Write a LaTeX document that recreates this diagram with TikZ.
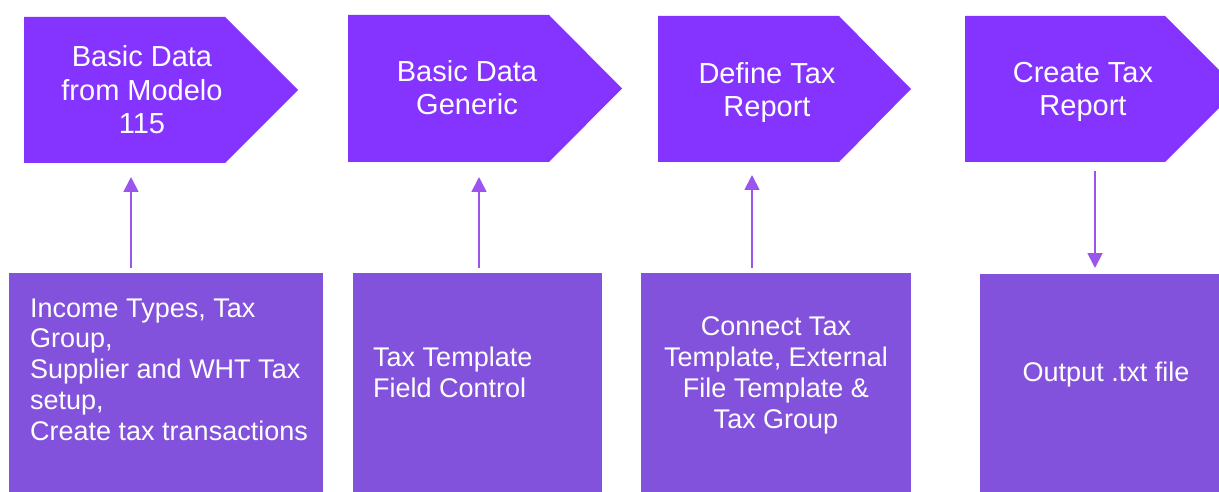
\documentclass[tikz,border=0pt]{standalone}
\usepackage{fontspec}
\setmainfont{Liberation Sans}
\usetikzlibrary{arrows.meta}
\definecolor{stepviolet}{HTML}{8533FF}
\definecolor{boxviolet}{HTML}{8352DC}
\definecolor{arrowviolet}{HTML}{9B55EC}
\tikzset{
  stepshape/.style={fill=stepviolet, draw=none},
  detailbox/.style={fill=boxviolet, draw=none},
  toptext/.style={text=white, align=center, inner sep=0pt, font=\fontsize{29}{33.5}\selectfont},
  bottext/.style={text=white, inner sep=0pt, font=\fontsize{27}{30.7}\selectfont},
  flowarrow/.style={draw=arrowviolet, line width=1.8pt, -{Triangle[length=15pt,width=15pt]}}
}
\begin{document}
\begin{tikzpicture}[x=1pt,y=-1pt]
\useasboundingbox (0,0) rectangle (1219,492);
\begin{scope}
\clip (0,0) rectangle (1219,492);
% step pentagons
\fill[stepshape] (24,17) -- (225,17) -- (298,90) -- (225,163) -- (24,163) -- cycle;
\fill[stepshape] (348,15) -- (549,15) -- (622,88.5) -- (549,162) -- (348,162) -- cycle;
\fill[stepshape] (658,16) -- (839,16) -- (911,89) -- (839,162) -- (658,162) -- cycle;
\fill[stepshape] (965,16) -- (1165,16) -- (1238,89) -- (1165,162) -- (965,162) -- cycle;
% detail boxes
\fill[detailbox] (9,273) rectangle (323,492);
\fill[detailbox] (353,273) rectangle (602,492);
\fill[detailbox] (641,273) rectangle (911,492);
\fill[detailbox] (980,274) rectangle (1219,492);
\end{scope}
% texts (anchor base = baseline of last line)
\node[toptext, anchor=base] (t1) at (142,134) {Basic Data\\from Modelo\\115};
\node[toptext, anchor=base] (t2) at (467,115) {Basic Data\\Generic};
\node[toptext, anchor=base] (t3) at (767,117) {Define Tax\\Report};
\node[toptext, anchor=base] (t4) at (1083,116) {Create Tax\\Report};
\node[bottext, align=left, anchor=base west] (d1) at (30,440) {Income Types, Tax\\Group,\\Supplier and WHT Tax\\setup,\\Create tax transactions};
\node[bottext, align=left, anchor=base west] (d2) at (373,397) {Tax Template\\Field Control};
\node[bottext, align=center, anchor=base] (d3) at (776,428) {Connect Tax\\Template, External\\File Template \&\\Tax Group};
\node[bottext, align=center, anchor=base] (d4) at (1106,381) {Output .txt file};
% arrow end points
\coordinate (a1s) at (131,268); \coordinate (a1e) at (131,177);
\coordinate (a2s) at (479,268); \coordinate (a2e) at (479,177);
\coordinate (a3s) at (752,268); \coordinate (a3e) at (752,175);
\coordinate (a4s) at (1095,171); \coordinate (a4e) at (1095,268);
\draw[flowarrow] (a1s) -- (a1e);
\draw[flowarrow] (a2s) -- (a2e);
\draw[flowarrow] (a3s) -- (a3e);
\draw[flowarrow] (a4s) -- (a4e);
\end{tikzpicture}
\end{document}
